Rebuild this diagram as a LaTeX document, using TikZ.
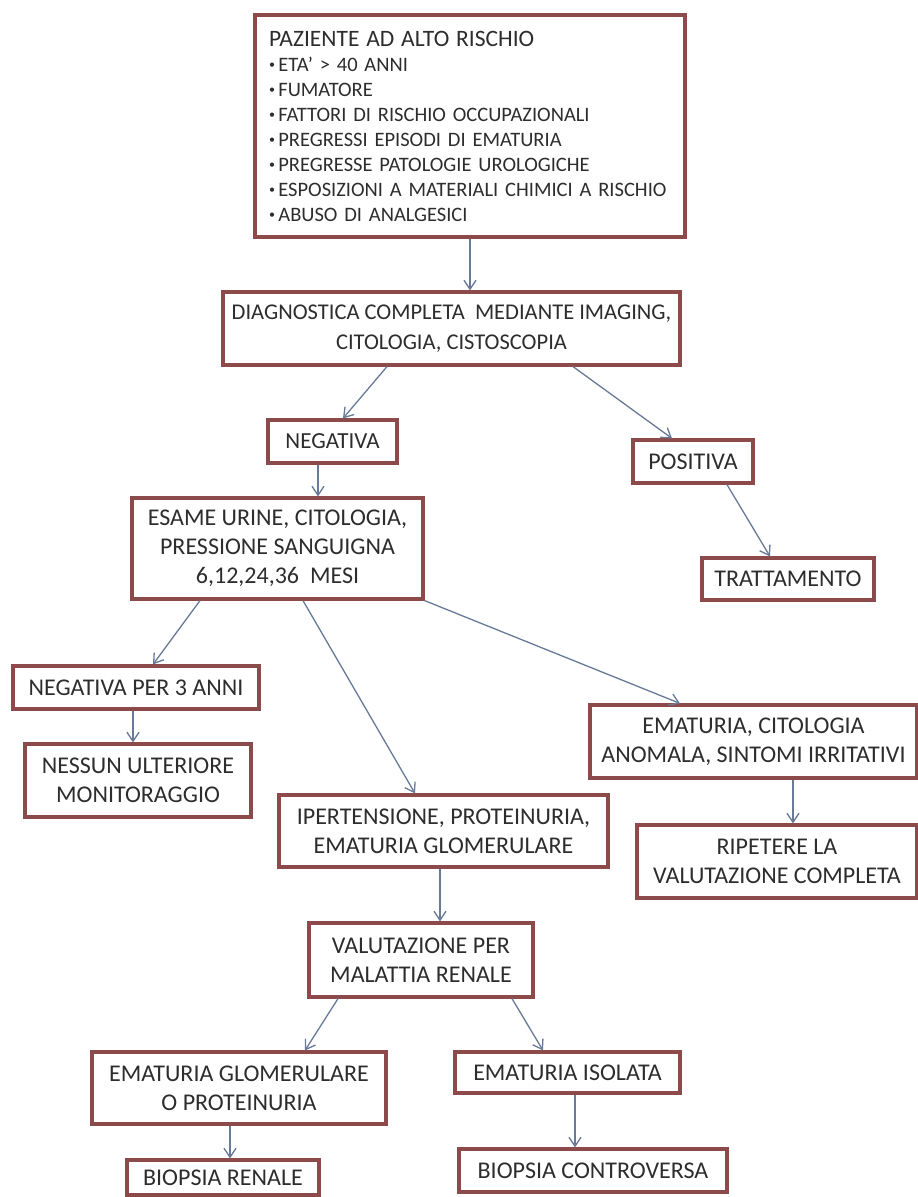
\documentclass[tikz,border=0pt]{standalone}
\usepackage{fontspec}
\setmainfont{Carlito}
\usetikzlibrary{arrows.meta}

\definecolor{boxred}{RGB}{140,74,74}
\definecolor{arrblue}{RGB}{104,122,152}
\definecolor{txtgray}{RGB}{45,45,45}

\begin{document}
\begin{tikzpicture}[x=1pt, y=-1pt,
	box/.style={
		draw=boxred, line width=3.2pt, rectangle, fill=white,
		text=txtgray, font=\fontsize{24}{29}\selectfont,
		align=center, inner sep=3pt
	},
	listbox/.style={
		box, align=left, text width=402pt, inner xsep=14pt,
		font=\fontsize{20.5}{25}\selectfont
	},
	arr/.style={-{Straight Barb[length=9pt, width=12pt]}, line width=1.3pt, arrblue},
	]
	\def\bul{{\fontsize{12}{12}\selectfont\raisebox{2.5pt}{\textbullet}}\,}
	
	\fill[white] (0,0) rectangle (918,1197);
	\useasboundingbox (0,0) rectangle (918,1197);
	
	% risk factors on top
	\node[listbox, minimum width=430pt, minimum height=222pt] (pat) at (470,126) {
		{\fontsize{23.5}{25}\selectfont PAZIENTE AD ALTO RISCHIO}\\
		\bul ETA' > 40 ANNI\\
		\bul FUMATORE\\
		\bul FATTORI DI RISCHIO OCCUPAZIONALI\\
		\bul PREGRESSI EPISODI DI EMATURIA\\
		\bul PREGRESSE PATOLOGIE UROLOGICHE\\
		\bul ESPOSIZIONI A MATERIALI CHIMICI A RISCHIO\\
		\bul ABUSO DI ANALGESICI
	};
	\node[box, font=\fontsize{22.5}{30}\selectfont, minimum width=457pt, minimum height=73pt] (diag) at (451.5,328.5) {
		DIAGNOSTICA COMPLETA\ \ MEDIANTE IMAGING,\\
		CITOLOGIA, CISTOSCOPIA
	};
	
	\node[box, font=\fontsize{23}{29}\selectfont, minimum width=129pt, minimum height=43pt] (neg) at (332.5,441.5) {NEGATIVA};
	\node[box, minimum width=120pt, minimum height=43pt] (pos) at (693,461.5) {POSITIVA};
	\node[box, minimum width=291pt, minimum height=101pt] (esame) at (277.5,548.5) {
		ESAME URINE, CITOLOGIA,\\
		PRESSIONE SANGUIGNA\\
		6,12,24,36\ \ MESI
	};
	\node[box, minimum width=172pt, minimum height=42pt] (trat) at (788,579) {TRATTAMENTO};
	
	% follow-up branches
	\node[box, minimum width=246pt, minimum height=43pt] (neg3) at (136,687.5) {NEGATIVA PER 3 ANNI};
	\node[box, minimum width=226pt, minimum height=73pt] (nessun) at (138,780.5) {
		NESSUN ULTERIORE\\
		MONITORAGGIO
	};
	\node[box, minimum width=327pt, minimum height=73pt] (ematcit) at (753.5,741.5) {
		EMATURIA, CITOLOGIA\\
		ANOMALA, SINTOMI IRRITATIVI
	};
	\node[box, minimum width=329pt, minimum height=72pt] (iper) at (443.5,831) {
		IPERTENSIONE, PROTEINURIA,\\
		EMATURIA GLOMERULARE
	};
	\node[box, minimum width=280pt, minimum height=73pt] (ripet) at (777,861.5) {
		RIPETERE LA\\
		VALUTAZIONE COMPLETA
	};
	
	% renal work-up
	\node[box, minimum width=224pt, minimum height=74pt] (valut) at (421,960) {
		VALUTAZIONE PER\\
		MALATTIA RENALE
	};
	\node[box, minimum width=294pt, minimum height=72pt] (glom) at (239,1088) {
		EMATURIA GLOMERULARE\\
		O PROTEINURIA
	};
	\node[box, minimum width=225pt, minimum height=41pt] (isol) at (567.5,1072.5) {EMATURIA ISOLATA};
	\node[box, minimum width=192pt, minimum height=35pt] (brenale) at (223,1177.5) {BIOPSIA RENALE};
	\node[box, minimum width=268pt, minimum height=43pt] (bcontro) at (593,1170.5) {BIOPSIA CONTROVERSA};
	
	\draw[arr] (pat.south) -- (pat.south |- diag.north);
	\draw[arr] ([xshift=-64.5pt]diag.south) -- ([xshift=10.5pt]neg.north);
	\draw[arr] ([xshift=121.5pt]diag.south) -- ([xshift=-21pt]pos.north);
	\draw[arr] ([xshift=-14.5pt]neg.south) -- ([xshift=-14.5pt]neg.south |- esame.north);
	\draw[arr] ([xshift=34pt]pos.south) -- ([xshift=-18pt]trat.north);
	\draw[arr] ([xshift=-77.5pt]esame.south) -- ([xshift=17pt]neg3.north);
	\draw[arr] ([xshift=-3pt]neg3.south) -- ([xshift=-3pt]neg3.south |- nessun.north);
	\draw[arr] ([xshift=25.5pt]esame.south) -- ([xshift=-28.5pt]iper.north);
	\draw[arr] (esame.south east) -- ([xshift=-73.5pt]ematcit.north);
	\draw[arr] ([xshift=39.5pt]ematcit.south) -- ([xshift=39.5pt]ematcit.south |- ripet.north);
	\draw[arr] ([xshift=-3.5pt]iper.south) -- ([xshift=-3.5pt]iper.south |- valut.north);
	\draw[arr] ([xshift=-83pt]valut.south) -- ([xshift=66pt]glom.north);
	\draw[arr] ([xshift=91pt]valut.south) -- ([xshift=-24.5pt]isol.north);
	\draw[arr] ([xshift=-9pt]glom.south) -- ([xshift=-9pt]glom.south |- brenale.north);
	\draw[arr] ([xshift=7.5pt]isol.south) -- ([xshift=7.5pt]isol.south |- bcontro.north);
	
\end{tikzpicture}
\end{document}
